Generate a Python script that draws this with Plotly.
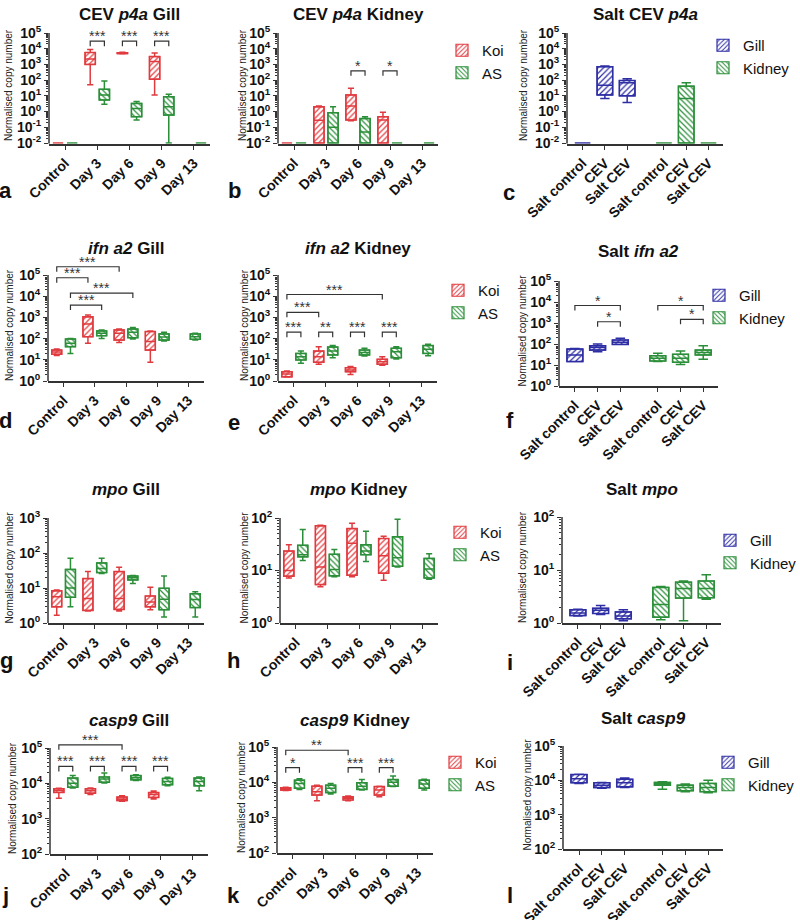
import math
import plotly.graph_objects as go

W, H = 800, 920
FONT = "Liberation Sans, Arial, Helvetica, sans-serif"

DAYS = ["Control", "Day 3", "Day 6", "Day 9", "Day 13"]
SALT_GROUPS = ["Salt control", "CEV", "Salt CEV"]
SALT_TICKS = SALT_GROUPS + SALT_GROUPS

ND = 0.01  # below detection, drawn on the axis floor
FLAT = (ND, ND, ND, ND, ND)

# each entry: (min, q1, median, q3, max); None = not sampled
A_KOI = [FLAT, (50, 1000, 2240, 5750, 8900), (4790, 4900, 5250, 5620, 5890), (11.5, 115, 1550, 3160, 5250), None]
A_AS = [FLAT, (2.9, 5.5, 11.5, 26, 89), (0.29, 0.47, 1.58, 3.3, 4.3), (ND, 0.6, 2.0, 8.9, 12.6), FLAT]

B_KOI = [FLAT, (ND, ND, 0.28, 2.0, 2.24), (0.26, 0.29, 2.24, 11.5, 30), (ND, ND, 0.29, 0.47, 0.89), None]
B_AS = [FLAT, (ND, ND, 0.1, 0.85, 2.0), (ND, ND, 0.05, 0.36, 0.47), FLAT, FLAT]

C_GILL = [FLAT, (6.9, 11.5, 47, 720, 790), (3.8, 10, 68, 95, 123)]
C_KIDNEY = [FLAT, (ND, ND, 6.9, 41, 68), FLAT]

D_KOI = [(15.8, 18.2, 23.4, 28.8, 32.4), (60, 123, 490, 1070, 1290), (66, 85, 178, 257, 282), (7.6, 28.8, 72, 214, 229), None]
D_AS = [(20, 41.7, 60, 95, 102), (102, 138, 178, 229, 257), (95, 110, 200, 282, 331), (78, 85, 120, 166, 200), (87, 93, 123, 166, 178)]

E_KOI = [(1.55, 1.58, 2.14, 2.75, 2.95), (6.2, 7.6, 14.1, 25.7, 41.7), (2.04, 2.75, 3.3, 4.27, 4.8), (5.6, 6.2, 8.1, 10.5, 14.1), None]
E_AS = [(6.8, 9.8, 14.1, 20, 25.7), (12.6, 17, 25.7, 40, 47), (15.1, 17, 21.9, 28.8, 34.7), (11, 12.6, 24, 34.7, 41.7), (15.5, 20, 31.6, 47, 53.7)]

F_GILL = [(14.5, 14.5, 30, 57.5, 61.7), (42.7, 51.3, 67.6, 83, 100), (95, 95, 120, 155, 186)]
F_KIDNEY = [(14.5, 15.5, 20.9, 27.5, 36.3), (10.7, 13.5, 20.9, 32.4, 46.8), (18.6, 30.2, 39.8, 51.3, 83)]

G_KOI = [(1.66, 2.9, 5.6, 8.3, 8.7), (2.19, 2.29, 5.0, 18.6, 29.5), (2.19, 2.45, 5.0, 29.5, 38.9), (2.4, 2.9, 4.0, 5.9, 10.5), None]
G_AS = [(2.9, 5.4, 10, 33.9, 70.8), (26, 27.5, 36, 52, 70.8), (13.5, 17, 19.5, 21.9, 22.9), (1.48, 2.4, 4.8, 9.8, 21.9), (1.48, 2.75, 4.7, 6.9, 7.8)]

H_KOI = [(7.2, 7.8, 10, 23.4, 30.9), (4.9, 5.4, 11.7, 70.8, 72.4), (7.6, 8.1, 33.1, 63, 79.4), (6.5, 8.9, 19.1, 40.7, 44.7), None]
H_AS = [(15.5, 18.2, 20, 30.2, 60.3), (7.6, 7.9, 10.5, 20.4, 25.1), (14.8, 20, 23.4, 30.9, 56.2), (11.7, 12, 17.4, 43.7, 95), (6.8, 7.2, 10.7, 17, 20.9)]

I_GILL = [(1.35, 1.38, 1.55, 1.78, 1.82), (1.45, 1.51, 1.74, 1.9, 2.14), (1.1, 1.2, 1.35, 1.62, 1.78)]
I_KIDNEY = [(1.15, 1.29, 2.24, 4.7, 4.9), (1.1, 2.95, 4.47, 5.9, 6.2), (2.82, 3.0, 4.47, 6.2, 8.1)]

J_KOI = [(3800, 5500, 6300, 7080, 7240), (4790, 5250, 6170, 7080, 7410), (3090, 3240, 3630, 4070, 4470), (3630, 3980, 4790, 5500, 6030), None]
J_AS = [(7410, 7760, 10000, 14100, 16600), (10200, 10700, 13200, 15100, 19500), (12000, 12600, 14500, 16600, 17400), (8510, 9120, 11200, 13800, 14800), (6170, 8510, 11200, 14100, 15100)]

K_KOI = [(5890, 6030, 6460, 7080, 7240), (3020, 4370, 5370, 7760, 8320), (3020, 3160, 3550, 3890, 4070), (3890, 4370, 6030, 7590, 7760), None]
K_AS = [(6310, 6760, 9330, 11500, 12600), (4680, 5130, 6760, 8320, 9330), (6030, 6310, 7760, 9770, 12000), (7590, 7760, 10000, 12000, 15100), (6030, 6760, 8910, 11500, 12300)]

L_GILL = [(8130, 8510, 11200, 14800, 15100), (5890, 6170, 7240, 8510, 8710), (6170, 6460, 8510, 10700, 11700)]
L_KIDNEY = [(5500, 7240, 7760, 8710, 9120), (4680, 5010, 6170, 7240, 7760), (4370, 4680, 6170, 8130, 10000)]

# significance brackets: (category 1, series 1, category 2, series 2, level, label)
A_SIG = [(1, "Koi", 1, "AS", 3.0e4, "***"), (2, "Koi", 2, "AS", 3.0e4, "***"), (3, "Koi", 3, "AS", 3.0e4, "***")]
B_SIG = [(2, "Koi", 2, "AS", 390, "*"), (3, "Koi", 3, "AS", 390, "*")]
D_SIG = [(0, "Koi", 2, "Koi", 2.45e5, "***"), (0, "Koi", 1, "Koi", 7.4e4, "***"),
         (0, "AS", 2, "AS", 1.4e4, "***"), (0, "AS", 1, "AS", 3800, "***")]
E_SIG = [(0, "Koi", 3, "Koi", 1.2e4, "***"), (0, "Koi", 1, "Koi", 1740, "***"),
         (0, "Koi", 0, "AS", 200, "***"), (1, "Koi", 1, "AS", 200, "**"),
         (2, "Koi", 2, "AS", 200, "***"), (3, "Koi", 3, "AS", 200, "***")]
F_SIG = [(0, "Gill", 2, "Gill", 6800, "*"), (1, "Gill", 2, "Gill", 1150, "*"),
         (0, "Kidney", 2, "Kidney", 6800, "*"), (1, "Kidney", 2, "Kidney", 1500, "*")]
J_SIG = [(0, "Koi", 2, "Koi", 1.23e5, "***"), (0, "Koi", 0, "AS", 3.0e4, "***"), (1, "Koi", 1, "AS", 3.0e4, "***"),
         (2, "Koi", 2, "AS", 3.0e4, "***"), (3, "Koi", 3, "AS", 3.0e4, "***")]
K_SIG = [(0, "Koi", 2, "Koi", 8.1e4, "**"), (0, "Koi", 0, "AS", 2.6e4, "*"),
         (2, "Koi", 2, "AS", 2.6e4, "***"), (3, "Koi", 3, "AS", 2.6e4, "***")]

STYLE = {
    "Koi": dict(line="#e03a3e", bg="#fbd6d6", shape="/"),
    "AS": dict(line="#2b8e39", bg="#cfeccf", shape="\\"),
    "Gill": dict(line="#2d2da4", bg="#d6d6f6", shape="/"),
    "Kidney": dict(line="#2b8e39", bg="#cfeccf", shape="\\"),
}

SALT_POS = [0, 1, 2, 3.65, 4.65, 5.65]
DAY_OFF = {"Koi": -0.22, "AS": 0.22}

# layout of each panel (pixels): plot box x0,x1, px of top tick, px of bottom tick
PANELS = [
    dict(t="CEV <i>p4a</i> Gill", kind="day", series=[("Koi", A_KOI), ("AS", A_AS)], sig=A_SIG,
         box=(49, 210, 33, 143), dec=(-2, 5), ty=14, ytx=9, let=("a", 5, 191), leg=None),
    dict(t="CEV <i>p4a</i> Kidney", kind="day", series=[("Koi", B_KOI), ("AS", B_AS)], sig=B_SIG,
         box=(278, 438, 33, 143), dec=(-2, 5), ty=14, ytx=243, let=("b", 234, 191), leg=(482, 48)),
    dict(t="Salt CEV <i>p4a</i>", kind="salt", series=[("Gill", C_GILL), ("Kidney", C_KIDNEY)], sig=[],
         box=(567, 723, 33, 143), dec=(-2, 5), ty=14, ytx=524, let=("c", 509, 192), leg=(743, 43)),
    dict(t="<i>ifn a2</i> Gill", kind="day", series=[("Koi", D_KOI), ("AS", D_AS)], sig=D_SIG,
         box=(48, 204, 275, 381), dec=(0, 5), ty=249, ytx=9, let=("d", 5, 420), leg=None),
    dict(t="<i>ifn a2</i> Kidney", kind="day", series=[("Koi", E_KOI), ("AS", E_AS)], sig=E_SIG,
         box=(278, 437, 275, 381), dec=(0, 5), ty=249, ytx=244, let=("e", 234, 422), leg=(478, 288)),
    dict(t="Salt <i>ifn a2</i>", kind="salt", series=[("Gill", F_GILL), ("Kidney", F_KIDNEY)], sig=F_SIG,
         box=(559, 718, 281, 386), dec=(0, 5), ty=252, ytx=522, let=("f", 510, 420), leg=(739, 293)),
    dict(t="<i>mpo</i> Gill", kind="day", series=[("Koi", G_KOI), ("AS", G_AS)], sig=[],
         box=(48, 204, 518, 623), dec=(0, 3), ty=489, ytx=9, let=("g", 6, 660), leg=None),
    dict(t="<i>mpo</i> Kidney", kind="day", series=[("Koi", H_KOI), ("AS", H_AS)], sig=[],
         box=(280, 438, 518, 623), dec=(0, 2), ty=489, ytx=244, let=("h", 233, 660), leg=(480, 530)),
    dict(t="Salt <i>mpo</i>", kind="salt", series=[("Gill", I_GILL), ("Kidney", I_KIDNEY)], sig=[],
         box=(562, 721, 517, 623), dec=(0, 2), ty=489, ytx=522, let=("i", 510, 662), leg=(750, 538)),
    dict(t="<i>casp9</i> Gill", kind="day", series=[("Koi", J_KOI), ("AS", J_AS)], sig=J_SIG,
         box=(50, 208, 748, 854), dec=(2, 5), ty=720, ytx=12, let=("j", 5, 895), leg=None),
    dict(t="<i>casp9</i> Kidney", kind="day", series=[("Koi", K_KOI), ("AS", K_AS)], sig=K_SIG,
         box=(277, 433, 747, 853), dec=(2, 5), ty=720, ytx=241, let=("k", 233, 895), leg=(475, 760)),
    dict(t="Salt <i>casp9</i>", kind="salt", series=[("Gill", L_GILL), ("Kidney", L_KIDNEY)], sig=[],
         box=(563, 723, 746, 849), dec=(2, 5), ty=718, ytx=527, let=("l", 510, 895), leg=(748, 760)),
]

EXT = 0.5  # decades of head-room above the top tick for brackets
TICK_PX = 5  # bracket end-tick length in pixels
AX = "#333333"


def pos(kind, s, i):
    if kind == "day":
        return i + DAY_OFF[s]
    return SALT_POS[i + (3 if s == "Kidney" else 0)]


fig = go.Figure()
shapes, annotations = [], []
layout = {}
leg_n = 1

for n, p in enumerate(PANELS, start=1):
    xa = "x" if n == 1 else f"x{n}"
    ya = "y" if n == 1 else f"y{n}"
    xkey = "xaxis" if n == 1 else f"xaxis{n}"
    ykey = "yaxis" if n == 1 else f"yaxis{n}"
    x0, x1, ytp, ybt = p["box"]
    lo, hi = p["dec"]
    pad = 0.05 if lo < 0 else 0.0  # keep floor values visible above the x axis line
    ppd = (ybt - ytp) / (hi - lo)
    top_px = ytp - EXT * ppd
    bot_px = ybt + pad * ppd
    kind = p["kind"]
    bw = 0.32 if kind == "day" else 0.7

    legname = None
    if p["leg"]:
        leg_n += 1
        legname = f"legend{leg_n}"
        tx, fy = p["leg"]
        layout[legname] = dict(x=(tx - 40) / W, xanchor="left", y=1 - (fy - 14) / H, yanchor="top",
                               font=dict(family=FONT, size=15, color="#111"), bgcolor="rgba(0,0,0,0)",
                               borderwidth=0, tracegroupgap=0, itemclick=False, itemdoubleclick=False)

    for s, vals in p["series"]:
        st = STYLE[s]
        xs = [pos(kind, s, i) for i, v in enumerate(vals) if v is not None]
        vv = [v for v in vals if v is not None]
        bx = [x for x, v in zip(xs, vv) if v[3] > v[1]]
        bb = [v[1] for v in vv if v[3] > v[1]]
        bh = [v[3] - v[1] for v in vv if v[3] > v[1]]
        fig.add_trace(go.Bar(
            x=bx, y=bh, base=bb, width=bw, xaxis=xa, yaxis=ya, name=s,
            marker=dict(color=st["bg"], line=dict(color=st["line"], width=1.2),
                        pattern=dict(shape=st["shape"], fgcolor=st["line"], size=4, solidity=0.3)),
            showlegend=bool(legname), legend=legname or "legend", hoverinfo="skip"))
        fig.add_trace(go.Box(
            x=xs, lowerfence=[v[0] for v in vv], q1=[v[1] for v in vv], median=[v[2] for v in vv],
            q3=[v[3] for v in vv], upperfence=[v[4] for v in vv], width=bw, whiskerwidth=0.6,
            fillcolor="rgba(0,0,0,0)", line=dict(color=st["line"], width=1.5), boxpoints=False,
            showlegend=False, xaxis=xa, yaxis=ya, hoverinfo="skip"))

    if kind == "day":
        xr, tv, tt = [-0.5, 4.5], list(range(5)), DAYS
    else:
        xr, tv, tt = [-0.7, 6.3], SALT_POS, SALT_TICKS

    tickfont = dict(family=FONT, size=14, color="#111", weight="bold")
    layout[xkey] = dict(range=xr, domain=[x0 / W, x1 / W], anchor=ya, tickvals=tv, ticktext=tt,
                        tickangle=-45, ticks="outside", ticklen=4, tickwidth=1.3, tickcolor=AX,
                        showline=True, linecolor=AX, linewidth=1.5, showgrid=False, zeroline=False,
                        tickfont=tickfont, fixedrange=True, automargin=False)
    layout[ykey] = dict(type="log", range=[lo - pad, hi + EXT], domain=[1 - bot_px / H, 1 - top_px / H],
                        anchor=xa,
                        tickvals=[10 ** k for k in range(lo, hi + 1)],
                        ticktext=[f"10<sup>{k}</sup>" for k in range(lo, hi + 1)],
                        ticks="outside", ticklen=4, tickwidth=1.3, tickcolor=AX, showline=False,
                        showgrid=False, zeroline=False, tickfont=tickfont, fixedrange=True, automargin=False,
                        minor=dict(tickmode="array",
                                   tickvals=[m * 10 ** k for k in range(lo, hi) for m in range(2, 10)],
                                   ticks="outside", ticklen=2, tickwidth=1, tickcolor=AX, showgrid=False))
    # y axis line, stopping at the top tick (shape coordinates are data values)
    shapes.append(dict(type="line", xref=f"{xa} domain", yref=ya, x0=0, x1=0,
                       y0=10 ** (lo - pad), y1=10 ** hi, line=dict(color=AX, width=1.5)))

    tick_factor = 10 ** (TICK_PX / ppd)
    for c1, s1, c2, s2, lvl, lab in p["sig"]:
        p1, p2 = pos(kind, s1, c1), pos(kind, s2, c2)
        shapes.append(dict(type="path", xref=xa, yref=ya,
                           path=f"M{p1},{lvl / tick_factor} L{p1},{lvl} L{p2},{lvl} L{p2},{lvl / tick_factor}",
                           line=dict(color=AX, width=1.2)))
        annotations.append(dict(xref=xa, yref=ya, x=(p1 + p2) / 2, y=math.log10(lvl), text=lab,
                                showarrow=False, yanchor="bottom", yshift=-5,
                                font=dict(family=FONT, size=14, color=AX)))

    # panel title
    annotations.append(dict(xref="paper", yref="paper", x=(x0 + x1) / 2 / W, y=1 - p["ty"] / H,
                            text=f"<b>{p['t']}</b>", showarrow=False, xanchor="center", yanchor="middle",
                            font=dict(family=FONT, size=17, color="#111")))
    # y-axis title
    annotations.append(dict(xref="paper", yref="paper", x=p["ytx"] / W, y=1 - ((ytp + ybt) / 2 - 3) / H,
                            text="Normalised copy number", textangle=-90, showarrow=False,
                            xanchor="center", yanchor="middle", font=dict(family=FONT, size=10, color="#222")))
    # panel letter
    letter, lx, lyp = p["let"]
    annotations.append(dict(xref="paper", yref="paper", x=lx / W, y=1 - lyp / H, text=f"<b>{letter}</b>",
                            showarrow=False, xanchor="center", yanchor="middle",
                            font=dict(family=FONT, size=22, color="#111")))

fig.update_layout(**layout)
fig.update_layout(
    template="none",
    width=W, height=H, autosize=False, margin=dict(l=0, r=0, t=0, b=0, pad=0, autoexpand=False),
    paper_bgcolor="white", plot_bgcolor="white", barmode="overlay", boxmode="overlay",
    showlegend=True, hovermode=False, shapes=shapes, annotations=annotations,
    font=dict(family=FONT, color="#111"),
)

fig.write_html("out.html", config={"displayModeBar": False},
               post_script="document.body.style.margin='0px';document.body.style.overflow='hidden';")
